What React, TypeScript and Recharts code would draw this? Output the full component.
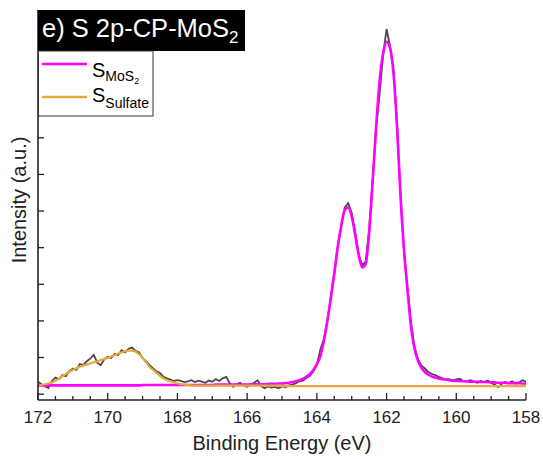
import { LineChart, Line, XAxis, YAxis, Label } from "recharts";

// binding energy grid (eV), high -> low like the instrument export
const energy = [
  172.0, 171.9, 171.8, 171.7, 171.6, 171.5, 171.4, 171.3, 171.2, 171.1,
  171.0, 170.9, 170.8, 170.7, 170.6, 170.5, 170.4, 170.3, 170.2, 170.1,
  170.0, 169.9, 169.8, 169.7, 169.6, 169.5, 169.4, 169.3, 169.2, 169.1,
  169.0, 168.9, 168.8, 168.7, 168.6, 168.5, 168.4, 168.3, 168.2, 168.1,
  168.0, 167.9, 167.8, 167.7, 167.6, 167.5, 167.4, 167.3, 167.2, 167.1,
  167.0, 166.9, 166.8, 166.7, 166.6, 166.5, 166.4, 166.3, 166.2, 166.1,
  166.0, 165.9, 165.8, 165.7, 165.6, 165.5, 165.4, 165.3, 165.2, 165.1,
  165.0, 164.9, 164.8, 164.7, 164.6, 164.5, 164.4, 164.3, 164.2, 164.1,
  164.0, 163.9, 163.8, 163.7, 163.6, 163.5, 163.4, 163.3, 163.2, 163.1,
  163.0, 162.9, 162.8, 162.7, 162.6, 162.5, 162.4, 162.3, 162.2, 162.1,
  162.0, 161.9, 161.8, 161.7, 161.6, 161.5, 161.4, 161.3, 161.2, 161.1,
  161.0, 160.9, 160.8, 160.7, 160.6, 160.5, 160.4, 160.3, 160.2, 160.1,
  160.0, 159.9, 159.8, 159.7, 159.6, 159.5, 159.4, 159.3, 159.2, 159.1,
  159.0, 158.9, 158.8, 158.7, 158.6, 158.5, 158.4, 158.3, 158.2, 158.1,
  158.0,
];

// measured spectrum
const rawCounts = [
  0.34, 0.27, 0.22, 0.17, 0.36, 0.45, 0.41, 0.52, 0.49, 0.63,
  0.7, 0.66, 0.82, 0.79, 0.9, 0.97, 1.07, 0.86, 0.79, 0.95,
  1.02, 0.99, 1.1, 1.07, 1.2, 1.14, 1.24, 1.27, 1.18, 1.14,
  0.98, 0.9, 0.79, 0.7, 0.62, 0.58, 0.47, 0.43, 0.4, 0.36,
  0.38, 0.36, 0.33, 0.35, 0.38, 0.33, 0.37, 0.34, 0.31, 0.37,
  0.34, 0.41, 0.36, 0.43, 0.47, 0.3, 0.2, 0.27, 0.31, 0.24,
  0.2, 0.26, 0.31, 0.38, 0.22, 0.16, 0.21, 0.18, 0.2, 0.16,
  0.21, 0.19, 0.24, 0.26, 0.3, 0.35, 0.37, 0.44, 0.5, 0.62,
  0.8, 1.22, 1.5, 2.02, 2.65, 3.28, 4.05, 4.58, 5.1, 5.22,
  4.95, 4.42, 3.82, 3.52, 3.62, 4.5, 5.85, 7.25, 8.2, 9.25,
  9.97, 9.5, 8.85, 7.4, 5.45, 3.9, 2.9, 1.98, 1.3, 0.95,
  0.78, 0.7, 0.6, 0.55, 0.52, 0.47, 0.43, 0.39, 0.41, 0.37,
  0.4, 0.42, 0.36, 0.34, 0.38, 0.35, 0.31, 0.36, 0.33, 0.37,
  0.31, 0.26, 0.19, 0.28, 0.33, 0.3, 0.35, 0.29, 0.32, 0.38,
  0.34,
];

// S 2p doublet fit, MoS2 component
const fitMoS2 = [
  0.24, 0.24, 0.24, 0.24, 0.24, 0.24, 0.24, 0.24, 0.24, 0.24,
  0.24, 0.24, 0.24, 0.24, 0.24, 0.24, 0.24, 0.24, 0.24, 0.24,
  0.24, 0.24, 0.24, 0.24, 0.24, 0.24, 0.24, 0.24, 0.24, 0.24,
  0.25, 0.25, 0.25, 0.25, 0.25, 0.25, 0.25, 0.25, 0.25, 0.25,
  0.25, 0.25, 0.25, 0.25, 0.25, 0.25, 0.25, 0.25, 0.25, 0.25,
  0.25, 0.26, 0.26, 0.26, 0.26, 0.26, 0.26, 0.26, 0.26, 0.26,
  0.26, 0.27, 0.27, 0.27, 0.27, 0.27, 0.28, 0.28, 0.28, 0.29,
  0.29, 0.3, 0.31, 0.33, 0.35, 0.38, 0.42, 0.47, 0.55, 0.66,
  0.82, 1.04, 1.45, 1.98, 2.62, 3.3, 4.02, 4.6, 5.03, 5.1,
  4.85, 4.35, 3.8, 3.46, 3.55, 4.4, 5.8, 7.3, 8.55, 9.3,
  9.62, 9.45, 8.75, 7.3, 5.4, 3.95, 2.85, 1.85, 1.25, 0.92,
  0.72, 0.6, 0.53, 0.48, 0.45, 0.43, 0.41, 0.4, 0.38, 0.37,
  0.36, 0.36, 0.35, 0.35, 0.34, 0.34, 0.34, 0.33, 0.33, 0.33,
  0.32, 0.32, 0.31, 0.31, 0.31, 0.3, 0.3, 0.3, 0.3, 0.29,
  0.29,
];

// sulfate component
const fitSulfate = [
  0.24, 0.25, 0.27, 0.29, 0.32, 0.37, 0.42, 0.49, 0.55, 0.61,
  0.66, 0.71, 0.75, 0.78, 0.81, 0.84, 0.87, 0.9, 0.93, 0.96,
  0.99, 1.03, 1.07, 1.11, 1.14, 1.17, 1.19, 1.19, 1.16, 1.09,
  0.99, 0.87, 0.75, 0.66, 0.58, 0.5, 0.43, 0.38, 0.35, 0.32,
  0.29, 0.27, 0.26, 0.25, 0.24, 0.23, 0.23, 0.23, 0.23, 0.23,
  0.23, 0.23, 0.23, 0.23, 0.23, 0.23, 0.23, 0.23, 0.23, 0.23,
  0.23, 0.23, 0.23, 0.23, 0.23, 0.23, 0.23, 0.23, 0.23, 0.23,
  0.22, 0.22, 0.22, 0.22, 0.22, 0.22, 0.22, 0.22, 0.22, 0.22,
  0.22, 0.22, 0.22, 0.22, 0.22, 0.22, 0.22, 0.22, 0.22, 0.22,
  0.22, 0.22, 0.22, 0.22, 0.22, 0.22, 0.22, 0.22, 0.22, 0.22,
  0.22, 0.22, 0.22, 0.22, 0.22, 0.22, 0.22, 0.22, 0.22, 0.22,
  0.22, 0.22, 0.22, 0.22, 0.22, 0.22, 0.22, 0.22, 0.22, 0.22,
  0.22, 0.22, 0.22, 0.22, 0.22, 0.22, 0.22, 0.22, 0.22, 0.22,
  0.22, 0.22, 0.22, 0.22, 0.22, 0.22, 0.22, 0.22, 0.22, 0.22,
  0.22,
];

const xTicks = [
  172, 171.5, 171, 170.5, 170, 169.5, 169, 168.5, 168, 167.5, 167, 166.5,
  166, 165.5, 165, 164.5, 164, 163.5, 163, 162.5, 162, 161.5, 161, 160.5,
  160, 159.5, 159, 158.5, 158,
];
const yTicks = [0, 1, 2, 3, 4, 5, 6, 7, 8, 9, 10];

const chartData = energy.map((e, i) => ({
  e,
  raw: rawCounts[i],
  mos2: fitMoS2[i],
  sulfate: fitSulfate[i],
}));

const FONT = '"Liberation Sans", Arial, sans-serif';
const INK = "#222";
const MAGENTA = "#ff00ff";
const ORANGE = "#e9a83a";

function BottomTick(props: any) {
  const { x, y, payload } = props;
  const major = payload.value % 2 === 0;
  return (
    <g>
      <line x1={x} x2={x} y1={y} y2={y - (major ? 7 : 4)} stroke={INK} strokeWidth={1.3} />
      {major && (
        <text x={x} y={y + 23} textAnchor="middle" fontSize={17} fontFamily={FONT} fill={INK}>
          {payload.value}
        </text>
      )}
    </g>
  );
}

function TopTick(props: any) {
  const { x, y, payload } = props;
  const major = payload.value % 2 === 0;
  return <line x1={x} x2={x} y1={y} y2={y + (major ? 7 : 4)} stroke={INK} strokeWidth={1.3} />;
}

function LeftTick(props: any) {
  const { x, y } = props;
  return <line x1={x} x2={x + 6} y1={y} y2={y} stroke={INK} strokeWidth={1.3} />;
}

function RightTick(props: any) {
  const { x, y } = props;
  return <line x1={x} x2={x - 6} y1={y} y2={y} stroke={INK} strokeWidth={1.3} />;
}

export default function App() {
  return (
    <div style={{ position: "absolute", left: 0, top: 0, width: 543, height: 459, background: "#fff" }}>
      <LineChart
        width={543}
        height={459}
        data={chartData}
        margin={{ top: 10, right: 17, bottom: 0, left: 0 }}
      >
        <XAxis
          xAxisId="b"
          dataKey="e"
          type="number"
          domain={[158, 172]}
          allowDataOverflow
          reversed
          ticks={xTicks}
          interval={0}
          height={59}
          tickSize={0}
          tickMargin={0}
          tickLine={false}
          tick={<BottomTick />}
          axisLine={{ stroke: INK, strokeWidth: 1.6 }}
        >
          <Label
            value="Binding Energy (eV)"
            position="insideBottom"
            offset={9}
            style={{ fontSize: 20, fontFamily: FONT, fill: INK }}
          />
        </XAxis>
        <XAxis
          xAxisId="t"
          orientation="top"
          type="number"
          domain={[158, 172]}
          allowDataOverflow
          reversed
          ticks={xTicks}
          interval={0}
          height={0}
          tickSize={0}
          tickMargin={0}
          tickLine={false}
          tick={<TopTick />}
          axisLine={{ stroke: INK, strokeWidth: 1.6 }}
        />
        <YAxis
          yAxisId="l"
          type="number"
          domain={[-0.16, 10.49]}
          allowDataOverflow
          ticks={yTicks}
          interval={0}
          width={38}
          tickSize={0}
          tickMargin={0}
          tickLine={false}
          tick={<LeftTick />}
          axisLine={{ stroke: INK, strokeWidth: 1.6 }}
        >
          <Label
            value="Intensity (a.u.)"
            angle={-90}
            position="center"
            dy={-5}
            style={{ fontSize: 20, fontFamily: FONT, fill: INK }}
          />
        </YAxis>
        <YAxis
          yAxisId="r"
          orientation="right"
          type="number"
          domain={[-0.16, 10.49]}
          allowDataOverflow
          ticks={yTicks}
          interval={0}
          width={0}
          tickSize={0}
          tickMargin={0}
          tickLine={false}
          tick={<RightTick />}
          axisLine={{ stroke: INK, strokeWidth: 1.6 }}
        />
        <Line
          xAxisId="b"
          yAxisId="l"
          dataKey="raw"
          type="linear"
          stroke="#4a4a4a"
          strokeWidth={1.8}
          dot={false}
          isAnimationActive={false}
        />
        <Line
          xAxisId="b"
          yAxisId="l"
          dataKey="mos2"
          type="monotone"
          stroke={MAGENTA}
          strokeWidth={2.6}
          dot={false}
          isAnimationActive={false}
        />
        <Line
          xAxisId="b"
          yAxisId="l"
          dataKey="sulfate"
          type="monotone"
          stroke={ORANGE}
          strokeWidth={2.2}
          dot={false}
          isAnimationActive={false}
        />
      </LineChart>

      {/* panel title + legend, Origin style */}
      <svg
        width={543}
        height={459}
        style={{ position: "absolute", left: 0, top: 0, pointerEvents: "none" }}
        fontFamily={FONT}
      >
        <rect x={38} y={10} width={207} height={41} fill="#000" />
        <text x={42} y={37} fontSize={25.5} fill="#fff">
          e) S 2p-CP-MoS
          <tspan fontSize={17} dy={6}>2</tspan>
        </text>
        <rect x={38.5} y={51} width={114.5} height={65} fill="#fff" stroke="#333" strokeWidth={1} />
        <line x1={42} x2={87} y1={64} y2={64} stroke={MAGENTA} strokeWidth={2.5} />
        <text x={92} y={77} fontSize={20} fill="#000">
          S
          <tspan fontSize={14} dy={4}>MoS</tspan>
          <tspan fontSize={9} dy={3}>2</tspan>
        </text>
        <line x1={42} x2={87} y1={97} y2={97} stroke={ORANGE} strokeWidth={2.5} />
        <text x={92} y={102} fontSize={20} fill="#000">
          S
          <tspan fontSize={14} dy={6}>Sulfate</tspan>
        </text>
      </svg>
    </div>
  );
}
